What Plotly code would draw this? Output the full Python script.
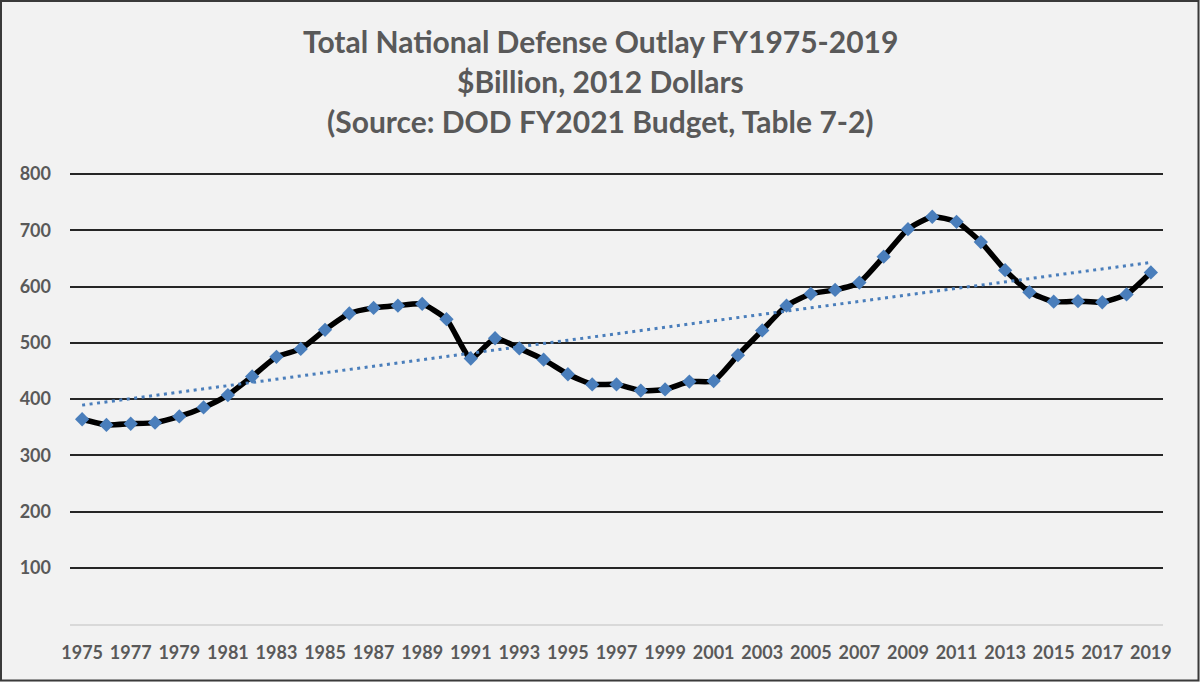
import plotly.graph_objects as go
import numpy as np

years = list(range(1975, 2020))
outlays = [364, 354, 356, 358, 369, 385, 407, 440, 475, 489,
           523, 552, 562, 566, 569, 542, 472, 508, 490, 470,
           444, 426, 426, 415, 417, 431, 432, 478, 522, 566,
           587, 594, 607, 653, 702, 724, 715, 679, 629, 590,
           573, 574, 572, 586, 625]
x_ticks = list(range(1975, 2020, 2))
y_ticks = [100, 200, 300, 400, 500, 600, 700, 800]
title_lines = ["Total National Defense Outlay FY1975-2019",
               "$Billion, 2012 Dollars",
               "(Source: DOD FY2021 Budget, Table 7-2)"]

# linear trendline (least squares) like Excel's trendline
coef = np.polyfit(years, outlays, 1)
trend = np.polyval(coef, years)

W, H = 1200, 682
L, R, T, B = 70, 37, 172, 58
pw, ph = W - L - R, H - T - B
ymax = 800 + 2 / 0.5625  # keep 800 gridline 2px inside the plot area

TXT = "#595959"
FONT = "Lato"

fig = go.Figure()
fig.add_trace(go.Scatter(
    x=years, y=outlays, mode="lines+markers",
    line=dict(color="black", width=5.5, shape="spline", smoothing=0.5),
    marker=dict(symbol="diamond", size=11, color="#4A7EBB"),
    showlegend=False, hoverinfo="x+y"))
fig.add_trace(go.Scatter(
    x=years, y=trend, mode="lines",
    line=dict(color="#4A7EBB", width=3, dash="3px,4.5px"),
    showlegend=False, hoverinfo="skip"))

def py(ypx):
    return (H - B - ypx) / ph

def px(xpx):
    return (xpx - L) / pw

annotations = []
for line, ypx in zip(title_lines, [41, 81, 121]):
    annotations.append(dict(
        text="<b>%s</b>" % line, xref="paper", yref="paper",
        x=px(600), y=py(ypx), xanchor="center", yanchor="middle",
        showarrow=False, font=dict(family=FONT, size=30, color=TXT)))

fig.update_layout(
    width=W, height=H,
    margin=dict(l=L, r=R, t=T, b=B, pad=0),
    paper_bgcolor="#F2F2F2", plot_bgcolor="#F2F2F2",
    annotations=annotations,
    shapes=[dict(type="rect", xref="paper", yref="paper",
                 x0=px(1), x1=px(1198.5), y0=py(680.5), y1=py(1),
                 line=dict(color="#3A3A3A", width=2), layer="above")],
    xaxis=dict(range=[1974.5, 2019.5], tickvals=x_ticks,
               ticktext=[str(v) for v in x_ticks],
               showgrid=False, zeroline=False, showline=True,
               linecolor="#D9D9D9", linewidth=1.5, ticks="",
               ticklabelstandoff=12,
               tickfont=dict(family=FONT, size=18, color=TXT, weight="bold")),
    yaxis=dict(range=[0, ymax], tickvals=y_ticks,
               ticktext=[str(v) for v in y_ticks],
               showgrid=True, gridcolor="#262626", gridwidth=2,
               zeroline=False, showline=False, ticks="",
               ticklabelstandoff=18,
               tickfont=dict(family=FONT, size=18, color=TXT, weight="bold")),
    hovermode="closest",
)

fig.write_html("out.html",
               config={"displayModeBar": False},
               post_script="document.body.style.margin='0';document.body.style.overflow='hidden';")
